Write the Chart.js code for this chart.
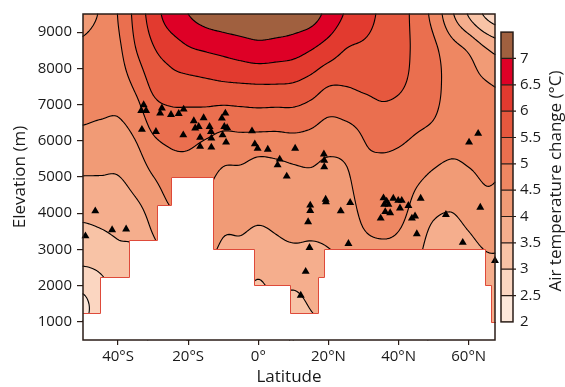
<!DOCTYPE html>
<html>
<head>
<meta charset="utf-8">
<script src="https://cdn.jsdelivr.net/npm/chart.js@4.4.1/dist/chart.umd.min.js"></script>
<style>
  html, body { margin: 0; padding: 0; background: #fff; }
</style>
</head>
<body>
<canvas id="graficoContorno" width="565" height="387"></canvas>
<script>
// grid of the temperature field: columns by latitude, one array per elevation
const gridLat = [-50, -45, -40, -35, -30, -25, -20, -15, -10, -5, 0, 5, 10, 15, 20, 25, 30, 35, 40, 45, 50, 55, 60, 65, 70];
const gridElev = [500, 1500, 2500, 3500, 4500, 5500, 6500, 7500, 8500, 9500];

const t500  = [2.70, 2.60, 2.70, 2.80, 3.10, 3.40, 3.50, 3.40, 3.20, 3.15, 3.00, 3.10, 3.00, 3.30, 3.50, 3.70, 3.80, 3.90, 3.85, 3.75, 3.40, 3.40, 3.50, 3.80, 3.90];
const t1500 = [2.40, 2.75, 2.90, 3.00, 3.40, 3.70, 3.80, 3.70, 3.50, 3.45, 3.30, 3.45, 3.35, 3.55, 3.70, 3.85, 4.00, 4.10, 4.05, 3.90, 3.50, 3.50, 3.60, 3.95, 3.95];
const t2500 = [2.98, 3.06, 3.25, 3.30, 3.70, 4.00, 4.10, 4.00, 3.80, 3.75, 3.60, 3.75, 3.75, 3.80, 3.90, 4.00, 4.20, 4.30, 4.25, 4.05, 3.65, 3.65, 3.75, 3.92, 3.95];
const t3500 = [3.40, 3.47, 3.57, 3.65, 4.03, 4.30, 4.40, 4.30, 4.04, 4.03, 3.95, 4.02, 4.10, 4.07, 4.08, 4.15, 4.48, 4.55, 4.50, 4.25, 3.90, 3.85, 4.00, 4.15, 4.10];
const t4500 = [3.80, 3.82, 3.85, 4.02, 4.30, 4.60, 4.65, 4.50, 4.30, 4.25, 4.22, 4.25, 4.30, 4.32, 4.25, 4.32, 4.72, 4.75, 4.72, 4.45, 4.25, 4.15, 4.30, 4.45, 4.40];
const t5500 = [4.17, 4.15, 4.13, 4.33, 4.70, 4.90, 4.92, 4.75, 4.58, 4.57, 4.47, 4.50, 4.56, 4.58, 4.48, 4.55, 4.90, 4.95, 4.90, 4.75, 4.60, 4.50, 4.55, 4.60, 4.55];
const t6500 = [4.52, 4.47, 4.45, 4.68, 5.15, 5.28, 5.30, 5.25, 5.15, 5.18, 5.20, 5.18, 5.20, 5.10, 4.92, 4.98, 5.12, 5.30, 5.25, 5.10, 4.98, 4.78, 4.70, 4.68, 4.62];
const t7500 = [4.75, 4.80, 4.75, 5.08, 5.60, 5.78, 5.80, 5.85, 5.90, 5.93, 5.95, 5.95, 5.92, 5.76, 5.50, 5.50, 5.58, 5.62, 5.56, 5.35, 5.12, 4.85, 4.65, 4.55, 4.45];
const t8500 = [4.60, 4.75, 4.90, 5.48, 5.95, 6.20, 6.43, 6.53, 6.62, 6.72, 6.80, 6.75, 6.68, 6.50, 6.25, 5.98, 5.90, 5.80, 5.72, 5.38, 5.10, 4.72, 4.45, 4.05, 3.80];
const t9500 = [4.35, 4.55, 5.02, 5.65, 6.25, 6.75, 7.00, 7.20, 7.30, 7.35, 7.40, 7.38, 7.30, 7.20, 6.85, 6.45, 6.22, 5.92, 5.78, 5.30, 4.85, 4.10, 3.45, 2.90, 2.60];
const tempRows = [t500, t1500, t2500, t3500, t4500, t5500, t6500, t7500, t8500, t9500];

// contour levels and colours
const levels = [2, 2.5, 3, 3.5, 4, 4.5, 5, 5.5, 6, 6.5, 7, 7.5];
const levelLabels = ['2', '2.5', '3', '3.5', '4', '4.5', '5', '5.5', '6', '6.5', '7'];
const bandColors = ['#fde8db', '#fbd6c1', '#f8c3a6', '#f5ae8d', '#f19b76', '#ee8762', '#ea6f4f', '#e6583e', '#e23a2f', '#de0026', '#a0603f'];

// terrain (no data) below these tops, step by step from west to east
const terrainLat = [-50, -45.1, -37.0, -28.9, -25.0, -12.8, -1.2, 9.1, 16.9, 18.8, 64.6, 66.5, 67.5];
const terrainTop = [1250, 2230, 3250, 4240, 5010, 3000, 2030, 1250, 2230, 3000, 2030, 1000];

// stations
const siteLat = [-32.7, -33.4, -32.0, -27.5, -28.0, -24.9, -22.7, -21.3, -33.2, -29.2, -21.4, -18.4, -15.6, -17.0, -18.0,
  -13.9, -13.5, -16.6, -13.4, -16.6, -13.4, -9.4, -10.4, -9.7, -8.9, -10.2, -9.2, -1.8, -1.0, -0.2,
  2.7, 10.5, 6.1, 5.5, 8.1, 18.7, 18.8, 18.8, 19.2, 14.8, 14.8, 19.3, 26.2, 23.5, 14.2,
  14.6, 25.7, 13.5, 12.1, 35.7, 36.6, 38.5, 39.9, 40.9, 35.9, 37.1, 40.4, 36.2, 37.6, 34.9,
  42.8, 46.3, 44.7, 43.8, 45.2, 53.5, 63.3, 58.3, 67.5, 62.7, 60.1, -46.5, -41.7, -37.7, -49.3];
const siteElev = [6990, 6830, 6830, 6900, 6760, 6720, 6750, 6870, 6310, 6250, 6160, 6550, 6630, 6390, 6350,
  6390, 6250, 6090, 6070, 5840, 5820, 6760, 6620, 6390, 6360, 6160, 5960, 6270, 5910, 5790,
  5760, 5790, 5490, 5330, 5020, 5630, 5460, 5280, 4380, 4220, 4070, 4310, 4290, 4060, 3760,
  3050, 3160, 2390, 1730, 4420, 4330, 4410, 4350, 4350, 4240, 4240, 4140, 4040, 4010, 3860,
  4210, 4410, 3920, 3860, 3430, 3960, 4160, 3190, 2690, 6200, 5960, 4060, 3540, 3560, 3370];

const xTicks = [-40, -20, 0, 20, 40, 60];
const xTickLabels = ['40°S', '20°S', '0°', '20°N', '40°N', '60°N'];
const yTicks = [1000, 2000, 3000, 4000, 5000, 6000, 7000, 8000, 9000];

const fonte = "'Open Sans', sans-serif";
const corTexto = '#1a1a1a';

function catmull(p0, p1, p2, p3, t) {
  return p1 + 0.5 * t * (p2 - p0 + t * (2 * p0 - 5 * p1 + 4 * p2 - p3 + t * (3 * (p1 - p2) + p3 - p0)));
}

function gridAt(i, j) {
  i = Math.max(0, Math.min(gridLat.length - 1, i));
  j = Math.max(0, Math.min(gridElev.length - 1, j));
  return tempRows[j][i];
}

function sampleTemp(lat, elev) {
  const fi = (lat - gridLat[0]) / (gridLat[1] - gridLat[0]);
  const fj = (elev - gridElev[0]) / (gridElev[1] - gridElev[0]);
  const i1 = Math.max(0, Math.min(gridLat.length - 2, Math.floor(fi)));
  const j1 = Math.max(0, Math.min(gridElev.length - 2, Math.floor(fj)));
  const tx = fi - i1, ty = fj - j1;
  const col = [];
  for (let m = -1; m <= 2; m++) {
    const j = j1 + m;
    col.push(catmull(gridAt(i1 - 1, j), gridAt(i1, j), gridAt(i1 + 1, j), gridAt(i1 + 2, j), tx));
  }
  return catmull(col[0], col[1], col[2], col[3], ty);
}

function bandOf(v) {
  let k = 0;
  while (k < levels.length - 2 && v >= levels[k + 1]) k++;
  return k;
}

function hexToRgb(hex) {
  const n = parseInt(hex.slice(1), 16);
  return [(n >> 16) & 255, (n >> 8) & 255, n & 255];
}

const contourPlugin = {
  id: 'contourField',
  beforeDatasetsDraw(chart) {
    const { ctx, chartArea: a, scales: { x, y } } = chart;
    const left = Math.round(a.left), top = Math.round(a.top);
    const w = Math.round(a.right) - left, h = Math.round(a.bottom) - top;
    const nx = w + 1, ny = h + 1;

    const colLat = [];
    for (let i = 0; i < nx; i++) colLat.push(x.getValueForPixel(left + i));
    const rowElev = [];
    for (let j = 0; j < ny; j++) rowElev.push(y.getValueForPixel(top + j));
    const f = new Float32Array(nx * ny);
    for (let j = 0; j < ny; j++) {
      for (let i = 0; i < nx; i++) f[j * nx + i] = sampleTemp(colLat[i], rowElev[j]);
    }

    // filled bands
    const off = document.createElement('canvas');
    off.width = w; off.height = h;
    const octx = off.getContext('2d');
    const img = octx.createImageData(w, h);
    const rgb = bandColors.map(hexToRgb);
    for (let j = 0; j < h; j++) {
      for (let i = 0; i < w; i++) {
        const v = (f[j * nx + i] + f[j * nx + i + 1] + f[(j + 1) * nx + i] + f[(j + 1) * nx + i + 1]) / 4;
        const c = rgb[bandOf(v)];
        const p = (j * w + i) * 4;
        img.data[p] = c[0]; img.data[p + 1] = c[1]; img.data[p + 2] = c[2]; img.data[p + 3] = 255;
      }
    }
    octx.putImageData(img, 0, 0);

    ctx.save();
    ctx.drawImage(off, left, top);

    // contour lines (marching squares)
    const s = 2;
    ctx.strokeStyle = '#000000';
    ctx.lineWidth = 1.1;
    ctx.lineCap = 'round';
    for (const L of levels.slice(1, levels.length - 1)) {
      ctx.beginPath();
      for (let j = 0; j + s < ny; j += s) {
        for (let i = 0; i + s < nx; i += s) {
          const v00 = f[j * nx + i], v10 = f[j * nx + i + s];
          const v01 = f[(j + s) * nx + i], v11 = f[(j + s) * nx + i + s];
          const pts = [];
          const x0 = left + i, y0 = top + j;
          if ((v00 >= L) !== (v10 >= L)) pts.push([x0 + s * (L - v00) / (v10 - v00), y0]);
          if ((v10 >= L) !== (v11 >= L)) pts.push([x0 + s, y0 + s * (L - v10) / (v11 - v10)]);
          if ((v01 >= L) !== (v11 >= L)) pts.push([x0 + s * (L - v01) / (v11 - v01), y0 + s]);
          if ((v00 >= L) !== (v01 >= L)) pts.push([x0, y0 + s * (L - v00) / (v01 - v00)]);
          if (pts.length === 2) {
            ctx.moveTo(pts[0][0], pts[0][1]); ctx.lineTo(pts[1][0], pts[1][1]);
          } else if (pts.length === 4) {
            const c = (v00 + v10 + v01 + v11) / 4;
            if ((c >= L) === (v00 >= L)) {
              ctx.moveTo(pts[0][0], pts[0][1]); ctx.lineTo(pts[1][0], pts[1][1]);
              ctx.moveTo(pts[2][0], pts[2][1]); ctx.lineTo(pts[3][0], pts[3][1]);
            } else {
              ctx.moveTo(pts[0][0], pts[0][1]); ctx.lineTo(pts[3][0], pts[3][1]);
              ctx.moveTo(pts[1][0], pts[1][1]); ctx.lineTo(pts[2][0], pts[2][1]);
            }
          }
        }
      }
      ctx.stroke();
    }

    // terrain mask
    const px = v => Math.round(x.getPixelForValue(v));
    const py = v => Math.round(y.getPixelForValue(v)) + 0.5;
    const edge = [];
    for (let k = 0; k < terrainTop.length; k++) {
      edge.push([px(terrainLat[k]), py(terrainTop[k])]);
      edge.push([px(terrainLat[k + 1]), py(terrainTop[k])]);
    }
    ctx.beginPath();
    ctx.moveTo(edge[0][0], a.bottom);
    edge.forEach(p => ctx.lineTo(p[0], p[1]));
    ctx.lineTo(edge[edge.length - 1][0], a.bottom);
    ctx.closePath();
    ctx.fillStyle = '#ffffff';
    ctx.fill();
    ctx.beginPath();
    edge.forEach((p, k) => k ? ctx.lineTo(p[0] + 0.5, p[1]) : ctx.moveTo(p[0] + 0.5, p[1]));
    ctx.strokeStyle = '#de4a3a';
    ctx.lineWidth = 1;
    ctx.stroke();
    ctx.restore();
  },
  afterDraw(chart) {
    const { ctx, chartArea: a, scales: { y } } = chart;
    ctx.save();
    ctx.strokeStyle = '#2a1d17';
    ctx.lineWidth = 1.5;
    ctx.strokeRect(a.left, a.top, a.right - a.left, a.bottom - a.top);

    // colour bar over the 1000-9000 m span of the elevation axis
    const cbX = 501, cbW = 12;
    const lo = levels[0], hi = levels[levels.length - 1];
    const tPix = t => y.getPixelForValue(1000 + (t - lo) / (hi - lo) * 8000);
    for (let k = 0; k < bandColors.length; k++) {
      const y0 = tPix(levels[k]), y1 = tPix(levels[k + 1]);
      ctx.fillStyle = bandColors[k];
      ctx.fillRect(cbX, y1, cbW, y0 - y1);
    }
    ctx.strokeStyle = '#2a1d17';
    ctx.lineWidth = 1.2;
    ctx.beginPath();
    for (let k = 1; k < levels.length - 1; k++) {
      const yy = tPix(levels[k]);
      ctx.moveTo(cbX, yy); ctx.lineTo(cbX + cbW + 3, yy);
    }
    ctx.stroke();
    ctx.lineWidth = 1.5;
    ctx.strokeRect(cbX, tPix(hi), cbW, tPix(lo) - tPix(hi));

    ctx.fillStyle = corTexto;
    ctx.font = `15px ${fonte}`;
    ctx.textAlign = 'left';
    ctx.textBaseline = 'middle';
    levelLabels.forEach((lab, k) => ctx.fillText(lab, cbX + cbW + 7, tPix(levels[k])));

    ctx.font = `17px ${fonte}`;
    ctx.textAlign = 'center';
    ctx.translate(556, (tPix(lo) + tPix(hi)) / 2 + 4);
    ctx.rotate(-Math.PI / 2);
    ctx.fillText('Air temperature change (°C)', 0, 0);
    ctx.restore();
  }
};

const ctxContorno = document.getElementById('graficoContorno');
new Chart(ctxContorno, {
  type: 'scatter',
  data: {
    datasets: [{
      label: 'Stations',
      data: siteLat.map((lat, i) => ({ x: lat, y: siteElev[i] })),
      pointStyle: 'triangle',
      pointRadius: 4.6,
      pointHoverRadius: 4.6,
      backgroundColor: '#000',
      borderColor: '#000',
      borderWidth: 0,
      clip: false
    }]
  },
  options: {
    responsive: false,
    animation: false,
    devicePixelRatio: 1,
    events: [],
    layout: { padding: { left: 0, right: 70, top: 12, bottom: 0 } },
    plugins: {
      legend: { display: false },
      tooltip: { enabled: false }
    },
    scales: {
      x: {
        type: 'linear',
        min: -50,
        max: 67.5,
        afterBuildTicks: s => { s.ticks = xTicks.map(v => ({ value: v })); },
        afterFit: s => { s.height = 47; },
        ticks: {
          callback: (v, i) => xTickLabels[i],
          color: corTexto,
          font: { family: fonte, size: 15 },
          padding: 3,
          maxRotation: 0
        },
        grid: { display: true, drawOnChartArea: false, drawTicks: true, tickLength: 5, color: '#2a1d17', lineWidth: 1.2 },
        border: { display: false },
        title: { display: true, text: 'Latitude', color: corTexto, font: { family: fonte, size: 17 }, padding: { top: 0, bottom: 0 } }
      },
      y: {
        type: 'linear',
        min: 500,
        max: 9500,
        afterBuildTicks: s => { s.ticks = yTicks.map(v => ({ value: v })); },
        afterFit: s => { s.width = 83; },
        ticks: {
          callback: v => String(v),
          color: corTexto,
          font: { family: fonte, size: 15 },
          padding: 5
        },
        grid: { display: true, drawOnChartArea: false, drawTicks: true, tickLength: 6, color: '#2a1d17', lineWidth: 1.2 },
        border: { display: false },
        title: { display: true, text: 'Elevation (m)', color: corTexto, font: { family: fonte, size: 17 }, padding: { top: 10, bottom: 0 } }
      }
    }
  },
  plugins: [contourPlugin]
});
</script>
</body>
</html>
